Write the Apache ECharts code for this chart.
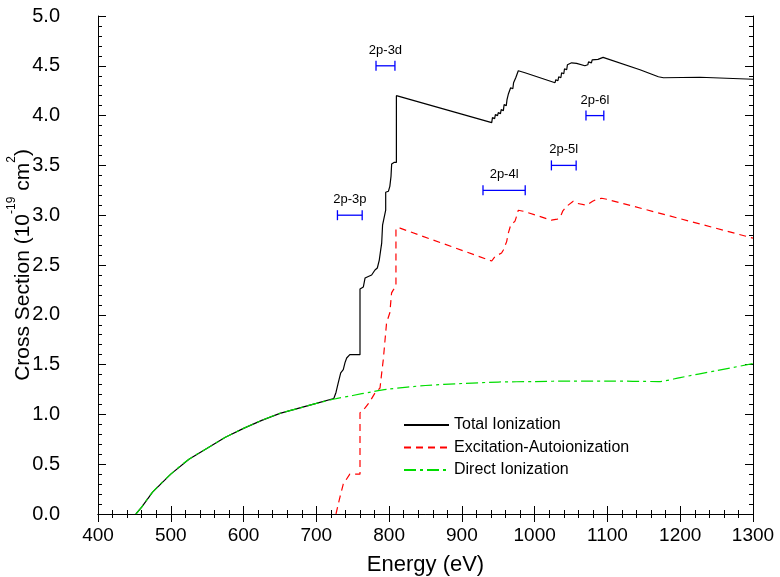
<!DOCTYPE html>
<html>
<head>
<meta charset="utf-8">
<script src="https://cdn.jsdelivr.net/npm/echarts@6/dist/echarts.min.js"></script>
<style>
  html, body { margin: 0; padding: 0; background: #fff; }
  #chart { width: 780px; height: 577px; }
</style>
</head>
<body>
<div id="chart"></div>
<script>
// 总电离截面
const totalE = [452, 460, 475, 500, 525, 550, 575, 600, 625, 650, 675, 700, 724, 727, 730, 733.5, 737, 739.4, 741.7, 746, 760, 760, 764.6, 767, 771.4, 776, 780.6, 783.8, 786.5, 788.4, 789.8, 791, 793.4, 795.3, 795.3, 799, 801, 802.6, 803.5, 806.7, 810, 810, 941, 942, 945, 946, 949, 950, 953, 954, 957, 958, 961, 962, 963, 964, 966, 967, 970, 971, 973, 974, 976, 977.5, 980, 986.7, 1028, 1029, 1032, 1033, 1036, 1037, 1040, 1041, 1044, 1045, 1050.8, 1057.6, 1069, 1070, 1073, 1074, 1078, 1079, 1087, 1088, 1094, 1144.7, 1170, 1177, 1227, 1300]
const totalS = [0, 0.07, 0.22, 0.40, 0.55, 0.66, 0.77, 0.86, 0.94, 1.01, 1.06, 1.11, 1.16, 1.22, 1.315, 1.416, 1.45, 1.52, 1.566, 1.60, 1.60, 2.26, 2.28, 2.37, 2.385, 2.40, 2.45, 2.47, 2.55, 2.65, 2.72, 2.90, 2.92, 3.05, 3.23, 3.24, 3.29, 3.39, 3.515, 3.53, 3.53, 4.20, 3.93, 3.98, 3.97, 4.01, 4.00, 4.03, 4.02, 4.06, 4.05, 4.11, 4.10, 4.16, 4.15, 4.22, 4.21, 4.28, 4.27, 4.33, 4.32, 4.38, 4.37, 4.45, 4.44, 4.43, 4.33, 4.36, 4.35, 4.39, 4.38, 4.43, 4.42, 4.47, 4.46, 4.51, 4.53, 4.525, 4.50, 4.52, 4.51, 4.54, 4.53, 4.56, 4.565, 4.58, 4.585, 4.46, 4.39, 4.38, 4.385, 4.365]
// 激发-自电离
const eaE = [727, 731.6, 737, 746, 760, 760, 767, 773.7, 780.6, 787.5, 789.8, 792, 796.5, 801, 803.4, 805.8, 809.4, 809.4, 815, 941, 945.5, 954.5, 957, 961.5, 963.8, 967, 973, 975.2, 977.5, 984.4, 1023, 1031, 1035.7, 1038.5, 1044, 1053, 1057.6, 1071, 1079.6, 1085, 1092, 1099, 1135.5, 1300]
const eaS = [0, 0.145, 0.30, 0.40, 0.40, 1.015, 1.065, 1.13, 1.215, 1.265, 1.415, 1.55, 1.92, 2.02, 2.22, 2.25, 2.285, 2.87, 2.87, 2.54, 2.585, 2.62, 2.65, 2.735, 2.82, 2.90, 2.94, 2.99, 3.05, 3.04, 2.95, 2.96, 2.99, 3.04, 3.09, 3.14, 3.12, 3.10, 3.14, 3.16, 3.17, 3.16, 3.09, 2.77]
// 直接电离
const diE = [452, 460, 475, 500, 525, 550, 575, 600, 625, 650, 675, 700, 725, 750, 775, 800, 850, 900, 950, 1000, 1050, 1100, 1170, 1200, 1250, 1300]
const diS = [0, 0.07, 0.22, 0.40, 0.55, 0.66, 0.77, 0.86, 0.94, 1.01, 1.06, 1.11, 1.155, 1.19, 1.225, 1.255, 1.29, 1.31, 1.325, 1.33, 1.335, 1.335, 1.33, 1.37, 1.44, 1.51]
// 共振区间标记
const barLabels = ['2p-3p', '2p-3d', '2p-4l', '2p-5l', '2p-6l']
const barFrom = [729, 782, 929, 1023, 1070.5]
const barTo = [763, 808, 987, 1057, 1095]
const barY = [3.0, 4.5, 3.25, 3.5, 4.0]

const xTicks = [400, 1300, 100]
const yTicks = [0, 5, 0.5]

const zip = (a, b) => a.map((v, i) => [v, b[i]])
const font = 'Liberation Sans, Arial, sans-serif'

const chart = echarts.init(document.getElementById('chart'))

const baseAxis = {
    axisLine: { show: true, lineStyle: { color: '#000', width: 1 } },
    axisTick: { show: true, inside: true, length: 8, lineStyle: { color: '#000' } },
    minorTick: { show: true, splitNumber: 5, length: 4, lineStyle: { color: '#000' } },
    splitLine: { show: false },
    minorSplitLine: { show: false }
}

chart.setOption({
    animation: false,
    textStyle: { fontFamily: font },
    grid: { left: 98, right: 27, top: 16, bottom: 63, containLabel: false, outerBoundsMode: 'none' },
    legend: {
        orient: 'vertical',
        left: 398,
        top: 412,
        itemWidth: 45,
        itemHeight: 12,
        itemGap: 6.5,
        itemStyle: { opacity: 0 },
        textStyle: { fontSize: 16, color: '#000', fontFamily: font },
        data: ['Total Ionization', 'Excitation-Autoionization', 'Direct Ionization']
    },
    xAxis: [{
        ...baseAxis,
        type: 'value',
        min: xTicks[0], max: xTicks[1], interval: xTicks[2],
        name: 'Energy (eV)',
        nameLocation: 'middle',
        nameGap: 40,
        nameMoveOverlap: false,
        nameTextStyle: { fontSize: 22, color: '#000', fontFamily: font },
        axisLabel: { fontSize: 19, color: '#000', margin: 12, fontFamily: font, formatter: v => String(v) }
    }, {
        ...baseAxis,
        type: 'value',
        position: 'top',
        min: xTicks[0], max: xTicks[1], interval: xTicks[2],
        axisLabel: { show: false }
    }],
    yAxis: [{
        ...baseAxis,
        type: 'value',
        min: yTicks[0], max: yTicks[1], interval: yTicks[2],
        name: '{a|Cross Section (10}{s|-19}{a| cm}{s|2}{a|)}',
        nameLocation: 'middle',
        nameGap: 64,
        nameRotate: 90,
        nameMoveOverlap: false,
        nameTextStyle: {
            rich: {
                a: { fontSize: 21, color: '#000', fontFamily: font, lineHeight: 28, verticalAlign: 'bottom' },
                s: { fontSize: 12, color: '#000', fontFamily: font, lineHeight: 12, verticalAlign: 'top' }
            }
        },
        axisLabel: {
            fontSize: 20, color: '#000', margin: 38, fontFamily: font,
            formatter: v => v.toFixed(1)
        }
    }, {
        ...baseAxis,
        type: 'value',
        position: 'right',
        min: yTicks[0], max: yTicks[1], interval: yTicks[2],
        axisLabel: { show: false }
    }],
    series: [{
        name: 'Total Ionization',
        type: 'line',
        symbol: 'none',
        data: zip(totalE, totalS),
        lineStyle: { color: '#000', width: 1.2 },
        itemStyle: { color: '#000' }
    }, {
        name: 'Excitation-Autoionization',
        type: 'line',
        symbol: 'none',
        data: zip(eaE, eaS),
        lineStyle: { color: '#ff0000', width: 1.2, type: [7, 5] },
        itemStyle: { color: '#ff0000' }
    }, {
        name: 'Direct Ionization',
        type: 'line',
        symbol: 'none',
        smooth: 0.3,
        data: zip(diE, diS),
        lineStyle: { color: '#00dd00', width: 1.2, type: [12, 4, 3, 4] },
        itemStyle: { color: '#00dd00' }
    }, {
        type: 'custom',
        data: barLabels.map((l, i) => [barFrom[i], barTo[i], barY[i]]),
        renderItem(params, api) {
            const p1 = api.coord([api.value(0), api.value(2)])
            const p2 = api.coord([api.value(1), api.value(2)])
            const st = { stroke: '#0000ff', lineWidth: 1.3 }
            return {
                type: 'group',
                children: [
                    { type: 'line', shape: { x1: p1[0], y1: p1[1], x2: p2[0], y2: p2[1] }, style: st },
                    { type: 'line', shape: { x1: p1[0], y1: p1[1] - 5, x2: p1[0], y2: p1[1] + 5 }, style: st },
                    { type: 'line', shape: { x1: p2[0], y1: p2[1] - 5, x2: p2[0], y2: p2[1] + 5 }, style: st },
                    {
                        type: 'text',
                        style: {
                            x: (p1[0] + p2[0]) / 2, y: p1[1] - 9,
                            text: barLabels[params.dataIndex],
                            align: 'center', verticalAlign: 'bottom',
                            fontSize: 13, fontFamily: font, fill: '#000'
                        }
                    }
                ]
            }
        }
    }]
})
</script>
</body>
</html>
